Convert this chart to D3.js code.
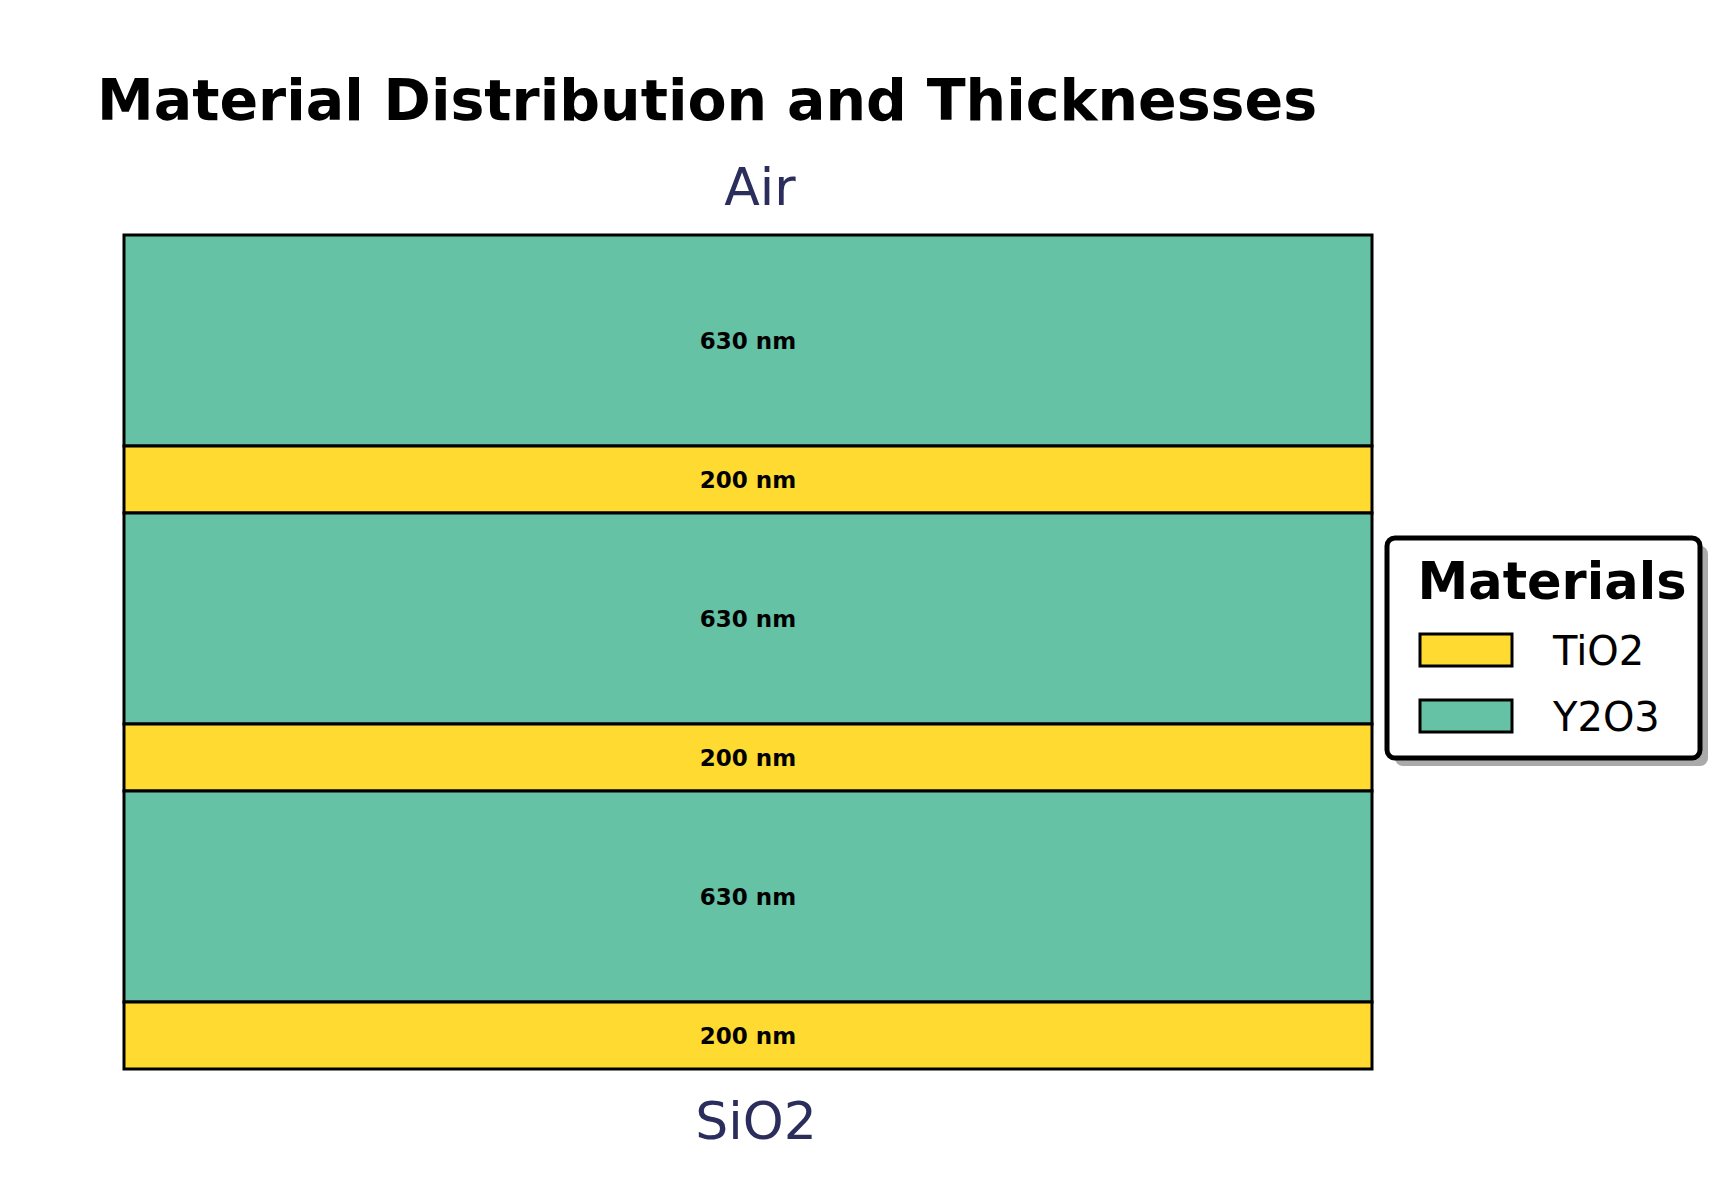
<!DOCTYPE html>
<html>
<head>
<meta charset="utf-8">
<script src="https://cdn.jsdelivr.net/npm/d3@7"></script>
<style>
  body { margin: 0; background: #fff; }
  svg { font-family: "DejaVu Sans", sans-serif; }
</style>
</head>
<body>
<svg id="chart" width="1729" height="1178"></svg>
<script>
// layers from top (air side) to bottom (substrate side)
const layerMaterials = ["Y2O3", "TiO2", "Y2O3", "TiO2", "Y2O3", "TiO2"];
const layerThickness = [630, 200, 630, 200, 630, 200];
const legendMaterials = ["TiO2", "Y2O3"];
const materialColors = { TiO2: "#ffda30", Y2O3: "#66c2a5" };

const svg = d3.select("#chart");
const plot = { left: 124, right: 1372, top: 235, bottom: 1069 };

// cumulative depth
let acc = 0;
const layers = layerMaterials.map((m, i) => {
  const d = { mat: m, t: layerThickness[i], y0: acc };
  acc += layerThickness[i];
  return d;
});

const y = d3.scaleLinear().domain([0, acc]).range([plot.top, plot.bottom]);

svg.append("text")
  .attr("x", 97).attr("y", 120)
  .style("font-size", "57px").style("font-weight", "bold")
  .text("Material Distribution and Thicknesses");

const cx = (plot.left + plot.right) / 2;

svg.append("text")
  .attr("x", cx + 12).attr("y", 205)
  .attr("text-anchor", "middle").attr("fill", "#2b2d5c")
  .style("font-size", "52px")
  .text("Air");

svg.append("text")
  .attr("x", cx + 8).attr("y", 1139)
  .attr("text-anchor", "middle").attr("fill", "#2b2d5c")
  .style("font-size", "52px")
  .text("SiO2");

const g = svg.append("g");
g.selectAll("rect")
  .data(layers)
  .join("rect")
  .attr("x", plot.left)
  .attr("width", plot.right - plot.left)
  .attr("y", d => y(d.y0))
  .attr("height", d => y(d.y0 + d.t) - y(d.y0))
  .attr("fill", d => materialColors[d.mat])
  .attr("stroke", "#000")
  .attr("stroke-width", 3);

g.selectAll("text")
  .data(layers)
  .join("text")
  .attr("x", cx)
  .attr("y", d => y(d.y0 + d.t / 2))
  .attr("dy", "0.35em")
  .attr("text-anchor", "middle")
  .style("font-size", "23px").style("font-weight", "bold")
  .text(d => `${d.t} nm`);

// legend
const lg = svg.append("g");
lg.append("rect")
  .attr("x", 1395).attr("y", 546).attr("width", 313).attr("height", 220)
  .attr("rx", 8).attr("fill", "#aaaaaa");
lg.append("rect")
  .attr("x", 1387).attr("y", 538).attr("width", 313).attr("height", 220)
  .attr("rx", 8).attr("fill", "#fff").attr("stroke", "#000").attr("stroke-width", 5);
lg.append("text")
  .attr("x", 1552).attr("y", 599).attr("text-anchor", "middle")
  .style("font-size", "51px").style("font-weight", "bold")
  .text("Materials");

legendMaterials.forEach((m, i) => {
  const row = lg.append("g").attr("transform", `translate(0, ${i * 66})`);
  row.append("rect")
    .attr("x", 1420).attr("y", 634).attr("width", 92).attr("height", 32)
    .attr("fill", materialColors[m]).attr("stroke", "#000").attr("stroke-width", 3);
  row.append("text")
    .attr("x", 1553).attr("y", 665)
    .style("font-size", "40px")
    .text(m);
});
</script>
</body>
</html>
